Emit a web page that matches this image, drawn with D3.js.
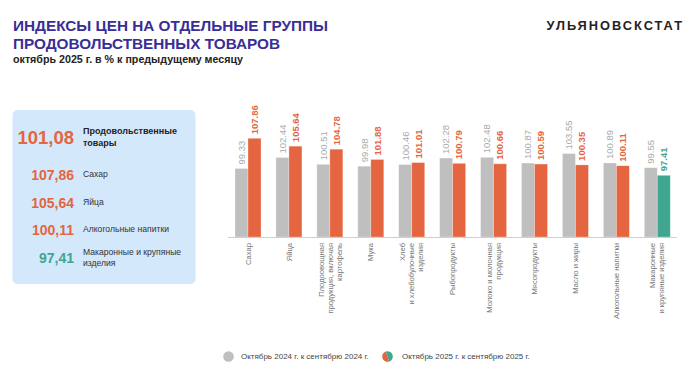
<!DOCTYPE html>
<html><head><meta charset="utf-8">
<script src="https://cdn.jsdelivr.net/npm/d3@7"></script>
<style>body{margin:0;background:#fff}svg{display:block;font-family:"Liberation Sans",Arial,sans-serif}</style>
</head><body>
<svg id="c" width="700" height="369"></svg>
<script>
const categories = [
  ["Сахар"],
  ["Яйца"],
  ["Плодоовощная","продукция, включая","картофель"],
  ["Мука"],
  ["Хлеб","и хлебобулочные","изделия"],
  ["Рыбопродукты"],
  ["Молоко и молочная","продукция"],
  ["Мясопродукты"],
  ["Масло и жиры"],
  ["Алкогольные напитки"],
  ["Макаронные","и крупяные изделия"]
];
const series2024 = [99.33,102.44,100.51,99.98,100.46,102.28,102.48,100.87,103.55,100.89,99.55];
const series2025 = [107.86,105.64,104.78,101.88,101.01,100.79,100.66,100.59,100.35,100.11,97.41];
const panelValues = ["101,08","107,86","105,64","100,11","97,41"];
const panelLabels = [["Продовольственные","товары"],["Сахар"],["Яйца"],["Алкогольные напитки"],["Макаронные и крупяные","изделия"]];
const legendLabels = ["Октябрь 2024 г. к сентябрю 2024 г.","Октябрь 2025 г. к сентябрю 2025 г."];

const GRAY="#bfbfbf", ORANGE="#e4653f", GREEN="#41a68f";
const svg = d3.select("#c");

// Title
svg.append("text").attr("x",13).attr("y",31).attr("fill","#3a2e96").attr("font-weight","bold").attr("font-size",15.3).text("ИНДЕКСЫ ЦЕН НА ОТДЕЛЬНЫЕ ГРУППЫ");
svg.append("text").attr("x",13).attr("y",48.5).attr("fill","#3a2e96").attr("font-weight","bold").attr("font-size",15.3).text("ПРОДОВОЛЬСТВЕННЫХ ТОВАРОВ");
svg.append("text").attr("x",13).attr("y",62.5).attr("fill","#222").attr("font-weight","bold").attr("font-size",10.7).text("октябрь 2025 г. в % к предыдущему месяцу");
svg.append("text").attr("x",684).attr("y",30).attr("text-anchor","end").attr("fill","#222").attr("font-weight","bold").attr("font-size",12.8).attr("letter-spacing",2).text("УЛЬЯНОВСКСТАТ");

// Panel
svg.append("rect").attr("x",12.5).attr("y",110).attr("width",183).attr("height",174).attr("rx",5).attr("fill","#d4e8fc");
const pv = [{y:144,s:18.5},{y:180,s:14},{y:207.5,s:14},{y:235,s:14},{y:262.5,s:14}];
const pl = [[134,146],[177],[204.5],[232],[254.5,266]];
panelValues.forEach((v,i)=>{
  svg.append("text").attr("x",74).attr("y",pv[i].y).attr("text-anchor","end").attr("font-weight","bold")
    .attr("font-size",pv[i].s).attr("fill", i===4?GREEN:ORANGE).text(v);
  panelLabels[i].forEach((t,j)=>{
    svg.append("text").attr("x",83).attr("y",pl[i][j]).attr("font-size",i===0?9:8.6)
      .attr("font-weight",i===0?"bold":"normal").attr("fill",i===0?"#222":"#333").text(t);
  });
});

// Chart
const keys = categories.map(c=>c.join(" "));
const x0 = d3.scaleBand().domain(keys).range([235,670.3]).paddingInner(0.365).paddingOuter(0);
const x1 = d3.scaleBand().domain(["a","b"]).range([0,x0.bandwidth()]);
const y = d3.scaleLinear().domain([80,110]).range([237,130.7]);

const g = svg.append("g");
keys.forEach((k,i)=>{
  const gx = x0(k);
  const vals = [{s:"a",v:series2024[i],c:GRAY},{s:"b",v:series2025[i],c: i===10?GREEN:ORANGE}];
  vals.forEach(d=>{
    g.append("rect").attr("x",gx+x1(d.s)).attr("y",y(d.v)).attr("width",x1.bandwidth()).attr("height",y(80)-y(d.v))
      .attr("fill",d.c).attr("stroke","#fff").attr("stroke-opacity",0.35).attr("stroke-width",0.8);
    const cx = gx+x1(d.s)+x1.bandwidth()/2, ty = y(d.v)-4;
    g.append("text").attr("transform",`translate(${cx},${ty}) rotate(-90)`).attr("dy","0.35em")
      .attr("font-size",9.5).attr("font-weight",d.s==="b"?"bold":"normal")
      .attr("fill",d.s==="a"?"#aaaaaa":d.c).text(d.v.toFixed(2));
  });
  // category label
  const lines = categories[i];
  const cx = gx + x0.bandwidth()/2;
  const lh = 9;
  const t = g.append("text").attr("transform",`translate(${cx},243) rotate(-90)`).attr("text-anchor","end")
    .attr("font-size",7.6).attr("fill","#777");
  lines.forEach((ln,j)=>{
    t.append("tspan").attr("x",0).attr("y",(j-(lines.length-1)/2)*lh).attr("dy","0.35em").text(ln);
  });
});
// axis line
g.append("line").attr("x1",228).attr("x2",677).attr("y1",y(80)+0.5).attr("y2",y(80)+0.5).attr("stroke","#cfcfcf").attr("stroke-width",1);

// Legend
svg.append("circle").attr("cx",228.5).attr("cy",356.5).attr("r",5.3).attr("fill",GRAY);
svg.append("text").attr("x",241).attr("y",359.3).attr("font-size",8).attr("fill","#444").text(legendLabels[0]);
const arc = d3.arc().innerRadius(0).outerRadius(5.3);
const lg = svg.append("g").attr("transform","translate(387.5,356.5)");
lg.append("path").attr("d",arc({startAngle:Math.PI*0.9,endAngle:Math.PI*1.9})).attr("fill",ORANGE);
lg.append("path").attr("d",arc({startAngle:-Math.PI*0.1,endAngle:Math.PI*0.9})).attr("fill",GREEN);
svg.append("text").attr("x",402).attr("y",359.3).attr("font-size",8).attr("fill","#444").text(legendLabels[1]);
</script>
</body></html>
